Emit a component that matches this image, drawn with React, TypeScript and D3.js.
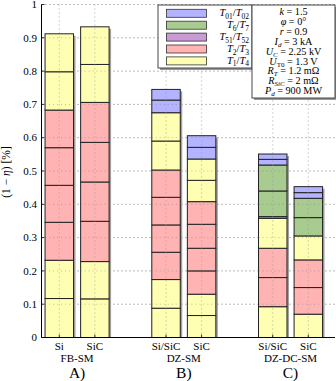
import React from "react";
import * as d3 from "d3";

const barLabels = ["Si", "SiC", "Si/SiC", "SiC", "Si/SiC", "SiC"];
const barPositions = [1, 2, 4, 5, 7, 8];
const groupNames = ["FB-SM", "DZ-SM", "DZ-DC-SM"];
const groupLetters = ["A)", "B)", "C)"];
const yTicks = [0, 0.1, 0.2, 0.3, 0.4, 0.5, 0.6, 0.7, 0.8, 0.9, 1];
const yTickLabels = ["0", "0.1", "0.2", "0.3", "0.4", "0.5", "0.6", "0.7", "0.8", "0.9", "1"];

// segment types: Y = T1/T4, P = T2/T3, Pu = T51/T52, G = T6/T7, B = T01/T02
const segTypes: string[][] = [
  ["Y", "Y", "P", "P", "P", "P", "Y", "Y"],
  ["Y", "Y", "P", "P", "P", "P", "Y", "Y"],
  ["Y", "Y", "P", "P", "P", "P", "Y", "Y", "B", "B"],
  ["Y", "Y", "P", "P", "P", "P", "Y", "Y", "B", "B"],
  ["Y", "P", "P", "Y", "Pu", "G", "G", "B", "B"],
  ["Y", "P", "P", "Y", "G", "G", "B", "B"],
];
const segValues: number[][] = [
  [0.117, 0.115, 0.114, 0.111, 0.113, 0.113, 0.115, 0.114],
  [0.116, 0.112, 0.121, 0.118, 0.119, 0.12, 0.114, 0.113],
  [0.088, 0.086, 0.082, 0.082, 0.083, 0.082, 0.087, 0.085, 0.038, 0.032],
  [0.066, 0.064, 0.07, 0.068, 0.072, 0.068, 0.064, 0.064, 0.035, 0.035],
  [0.0925, 0.0875, 0.088, 0.09, 0.005, 0.077, 0.078, 0.017, 0.016],
  [0.07, 0.08, 0.083, 0.072, 0.055, 0.058, 0.017, 0.018],
];

const legendKeys = ["B", "G", "Pu", "P", "Y"];
const legendSubs = [["01", "02"], ["6", "7"], ["51", "52"], ["2", "3"], ["1", "4"]];

type Piece = { t: string; it?: boolean; sub?: boolean };
const paramLines: Piece[][] = [
  [{ t: "k", it: true }, { t: " = 1.5" }],
  [{ t: "φ", it: true }, { t: " = 0°" }],
  [{ t: "r", it: true }, { t: " = 0.9" }],
  [{ t: "I", it: true }, { t: "d", it: true, sub: true }, { t: " = 3 kA" }],
  [{ t: "U", it: true }, { t: "C", it: true, sub: true }, { t: " = 2.25 kV" }],
  [{ t: "U", it: true }, { t: "T0", it: false, sub: true }, { t: " = 1.3 V" }],
  [{ t: "R", it: true }, { t: "T", it: true, sub: true }, { t: " = 1.2 mΩ" }],
  [{ t: "R", it: true }, { t: "SiC", it: true, sub: true }, { t: " = 2 mΩ" }],
  [{ t: "P", it: true }, { t: "d", it: true, sub: true }, { t: " = 900 MW" }],
];

const colors: Record<string, string> = {
  Y: "#ffffb3",
  P: "#ffb3b3",
  Pu: "#c99ad3",
  G: "#a8cc90",
  B: "#b3b3ff",
};

const W = 336;
const H = 381;
const FONT = "'Liberation Serif', 'Times New Roman', serif";

function renderPieces(pieces: Piece[], subSize: number, shift: number) {
  const out: React.ReactNode[] = [];
  let shifted = false;
  pieces.forEach((p, i) => {
    let dy = 0;
    if (p.sub && !shifted) {
      dy = shift;
      shifted = true;
    } else if (!p.sub && shifted) {
      dy = -shift;
      shifted = false;
    }
    out.push(
      <tspan
        key={i}
        dy={dy || undefined}
        fontStyle={p.it ? "italic" : "normal"}
        fontSize={p.sub ? subSize : undefined}
      >
        {p.t}
      </tspan>
    );
  });
  return out;
}

export default function App() {
  const x = d3.scaleLinear().domain([0.5, 8.75]).range([41.5, 335]);
  const y = d3.scaleLinear().domain([0, 1]).range([337.5, 4.5]);
  const barW = x(1.4) - x(0.6);
  const x0 = x.range()[0];
  const x1 = x.range()[1];

  return (
    <svg
      width={W}
      height={H}
      style={{ position: "absolute", left: 0, top: 0, background: "#fff" }}
      fontFamily={FONT}
    >
      {/* grid */}
      {yTicks.slice(1).map((t) => (
        <line
          key={"gy" + t}
          x1={x0}
          x2={x1}
          y1={y(t)}
          y2={y(t)}
          stroke="#555"
          strokeWidth={0.8}
          strokeDasharray="1,3"
        />
      ))}
      {barPositions.map((p) => (
        <line
          key={"gx" + p}
          x1={x(p)}
          x2={x(p)}
          y1={y(0)}
          y2={y(1)}
          stroke="#999"
          strokeWidth={0.8}
          strokeDasharray="1,3"
        />
      ))}

      {/* bars */}
      {segValues.map((vals, bi) => {
        const cx = x(barPositions[bi]);
        const left = cx - barW / 2;
        const total = d3.sum(vals);
        const stack = d3.cumsum(vals);
        return (
          <g key={"bar" + bi}>
            <rect
              x={left + 2}
              y={y(total) + 2}
              width={barW}
              height={y(0) - y(total) - 2}
              fill="#a0a0a0"
            />
            {vals.map((v, si) => {
              const top = stack[si];
              const bottom = top - v;
              return (
                <rect
                  key={si}
                  x={left}
                  y={y(top)}
                  width={barW}
                  height={y(bottom) - y(top)}
                  fill={colors[segTypes[bi][si]]}
                  stroke="#222"
                  strokeWidth={1}
                />
              );
            })}
            <line
              x1={cx}
              x2={cx}
              y1={y(0)}
              y2={y(total)}
              stroke="#999"
              strokeWidth={0.8}
              strokeDasharray="1,3"
            />
            {yTicks
              .filter((t) => t > 0 && t < total)
              .map((t) => (
                <line
                  key={"o" + t}
                  x1={left}
                  x2={left + barW}
                  y1={y(t)}
                  y2={y(t)}
                  stroke="#777"
                  strokeWidth={0.8}
                  strokeDasharray="1,3"
                  opacity={0.6}
                />
              ))}
          </g>
        );
      })}

      {/* axes */}
      <line x1={x0} x2={x0} y1={y(0)} y2={y(1)} stroke="#000" strokeWidth={1} />
      <line x1={x0} x2={x1} y1={y(0)} y2={y(0)} stroke="#000" strokeWidth={1} />
      {yTicks.map((t) => (
        <line key={"tk" + t} x1={x0} x2={x0 + 3} y1={y(t)} y2={y(t)} stroke="#000" strokeWidth={0.8} />
      ))}
      {barPositions.map((p) => (
        <line key={"tx" + p} x1={x(p)} x2={x(p)} y1={y(0)} y2={y(0) - 3} stroke="#000" strokeWidth={0.8} />
      ))}

      {/* y tick labels */}
      {yTicks.map((t, i) => (
        <text key={"yl" + t} x={37} y={y(t) + 3.7} textAnchor="end" fontSize={11} fill="#000">
          {yTickLabels[i]}
        </text>
      ))}

      {/* y axis label */}
      <text
        transform={`translate(9.5, ${172}) rotate(-90)`}
        textAnchor="middle"
        fontSize={11.5}
        fill="#000"
      >
        (1 − <tspan fontStyle="italic">η</tspan>) [%]
      </text>

      {/* x labels */}
      {barLabels.map((l, i) => (
        <text key={"xl" + i} x={x(barPositions[i])} y={350} textAnchor="middle" fontSize={11} fill="#000">
          {l}
        </text>
      ))}
      {groupNames.map((g, i) => {
        const cx = (x(barPositions[2 * i]) + x(barPositions[2 * i + 1])) / 2;
        return (
          <g key={"gn" + i}>
            <text x={cx} y={361.5} textAnchor="middle" fontSize={11} fill="#000">
              {g}
            </text>
            <text x={cx} y={378} textAnchor="middle" fontSize={15.5} fill="#000">
              {groupLetters[i]}
            </text>
          </g>
        );
      })}

      {/* legend box */}
      <rect x={160} y={7} width={94} height={63} fill="#999" />
      <rect x={158} y={5} width={94} height={63} fill="#fff" stroke="#333" strokeWidth={0.9} />
      {legendKeys.map((k, i) => {
        const cy = 13.3 + i * 11.9;
        return (
          <g key={"lg" + i}>
            <rect x={166.5} y={cy - 4} width={40} height={8} fill={colors[k]} stroke="#333" strokeWidth={0.8} />
            <text x={249} y={cy + 3} textAnchor="end" fontSize={10.5} fill="#000">
              {renderPieces(
                [
                  { t: "T", it: true },
                  { t: legendSubs[i][0], sub: true },
                  { t: "/" },
                  { t: "T", it: true },
                  { t: legendSubs[i][1], sub: true },
                ],
                7.5,
                2.5
              )}
            </text>
          </g>
        );
      })}

      {/* params box */}
      <rect x={254} y={7} width={83} height={93} fill="#999" />
      <rect x={252} y={5} width={83} height={93} fill="#fff" stroke="#333" strokeWidth={0.9} />
      {paramLines.map((line, i) => (
        <text key={"pl" + i} x={293.5} y={15.3 + i * 9.84} textAnchor="middle" fontSize={10.2} fill="#000">
          {renderPieces(line, 7, 2)}
        </text>
      ))}
    </svg>
  );
}
